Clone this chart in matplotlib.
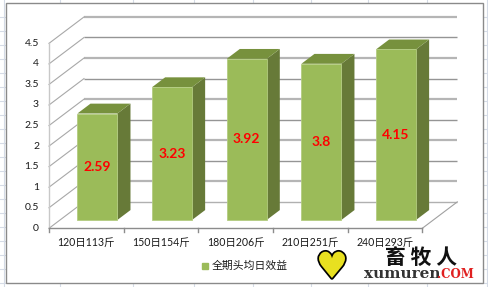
import matplotlib
matplotlib.use("Agg")
import matplotlib.pyplot as plt
from matplotlib.lines import Line2D
from matplotlib.patches import Rectangle
import matplotlib.patheffects as pe

# ---- data ----
categories = ["120日113斤", "150日154斤", "180日206斤", "210日251斤", "240日293斤"]
values = [2.59, 3.23, 3.92, 3.8, 4.15]
value_labels = ["2.59", "3.23", "3.92", "3.8", "4.15"]
yticks = [0, 0.5, 1, 1.5, 2, 2.5, 3, 3.5, 4, 4.5]
ytick_labels = ["0", "0.5", "1", "1.5", "2", "2.5", "3", "3.5", "4", "4.5"]
series_name = "全期头均日效益"

W, H = 488, 287
fig = plt.figure(figsize=(W / 100, H / 100), dpi=100)
fig.patch.set_facecolor("white")

# spreadsheet grid behind chart
gc = "#d5dbe6"
for y in range(17, 287, 14):
    fig.add_artist(Line2D([0, 5 / W], [1 - y / H] * 2, color=gc, lw=0.8, zorder=-3))
    fig.add_artist(Line2D([483 / W, 1], [1 - y / H] * 2, color=gc, lw=0.8, zorder=-3))
for x in [60, 133, 194, 253, 311, 368, 427]:
    fig.add_artist(Line2D([x / W] * 2, [1, 1 - 3 / H], color=gc, lw=0.8, zorder=-3))
    fig.add_artist(Line2D([x / W] * 2, [0, 1 - 283 / H], color=gc, lw=0.8, zorder=-3))
fig.add_artist(Line2D([3.5 / W] * 2, [0, 1], color=gc, lw=0.8, zorder=-3))
fig.add_artist(Line2D([486.5 / W] * 2, [0, 1], color=gc, lw=0.8, zorder=-3))
# chart border
fig.add_artist(Rectangle((5.5 / W, 1 - 282.5 / H), 477.5 / W, 279.5 / H,
                         fill=True, facecolor="white", edgecolor="#8a8a8a", lw=1.0, zorder=-2))

# axes in category / value units; pixel geometry
X0, XS = 49.0, 74.66      # front x origin px, px per category
Y0, YS = 228.3, 41.1      # front y=0 px (from top), px per unit
DXP, DYP = 35.0, 26.4     # depth offset px
ax = fig.add_axes([0, 0, 1, 1])
ax.set_xlim(-X0 / XS, (W - X0) / XS)
ax.set_ylim((Y0 - H) / YS, Y0 / YS)
ax.axis("off")
ax.patch.set_alpha(0)

DX, DY = DXP / XS, DYP / YS


def P(x, v, d):
    return x + d * DX, v + d * DY


n = len(categories)
vmax = yticks[-1]

# back wall gridlines and side wall diagonals
for i, v in enumerate(yticks):
    col = "#959595" if i % 2 == 0 else "#b5b5b5"
    lw = 1.0 if i % 2 == 0 else 1.6
    if v == 0:
        col, lw = "#b0b0b0", 1.0
    a, b = P(0, v, 1), P(n, v, 1)
    ax.plot([a[0], b[0]], [a[1], b[1]], color=col, lw=lw, solid_capstyle="butt", zorder=1)
    a, b = P(0, v, 0), P(0, v, 1)
    ax.plot([a[0], b[0]], [a[1], b[1]], color="#a8a8a8", lw=0.8, zorder=1)

# front axis line
a, b = P(0, 0, 0), P(0, vmax, 0)
ax.plot([a[0], b[0]], [a[1], b[1]], color="#c8c8c8", lw=1.0, zorder=1)
# floor
a, b = P(0, 0, 0), P(n, 0, 0)
ax.plot([a[0], b[0]], [a[1], b[1]], color="#8c8c8c", lw=1.0, zorder=1)
a, b = P(n, 0, 0), P(n, 0, 1)
ax.plot([a[0], b[0]], [a[1], b[1]], color="#a0a0a0", lw=0.8, zorder=1)
for i in range(n + 1):
    ax.plot([i, i], [0, -4 / YS], color="#8c8c8c", lw=1.0, zorder=1)

# y tick labels
for v, t in zip(yticks, ytick_labels):
    ax.text(-10 / XS, v, t, ha="right", va="center", fontsize=7.5,
            family=["Lato", "DejaVu Sans"], color="#1a1a1a")

# category labels
for i, c in enumerate(categories):
    ax.text(i + 0.5, -14 / YS, c, ha="center", va="center", fontsize=7.6,
            family=["Lato", "Noto Sans CJK SC"], color="#1a1a1a")

# bars
d0, d1 = 0.316, 0.69
bw = 40 / XS
front_c, side_c, top_c = "#9bbb59", "#677a38", "#77913d"
for i, val in enumerate(values):
    cx = i + 0.5
    xl, xr = cx - bw / 2, cx + bw / 2
    side = [P(xr, 0, d0), P(xr, 0, d1), P(xr, val, d1), P(xr, val, d0)]
    ax.fill([p[0] for p in side], [p[1] for p in side], color=side_c, lw=0, zorder=3)
    top = [P(xl, val, d0), P(xr, val, d0), P(xr, val, d1), P(xl, val, d1)]
    ax.fill([p[0] for p in top], [p[1] for p in top], color=top_c, lw=0, zorder=3)
    front = [P(xl, 0, d0), P(xr, 0, d0), P(xr, val, d0), P(xl, val, d0)]
    ax.fill([p[0] for p in front], [p[1] for p in front], facecolor=front_c,
            edgecolor="#b3cc80", lw=0.6, zorder=4)
    lx, ly = P(cx, val / 2, d0)
    ax.text(lx, ly, value_labels[i], ha="center", va="center", fontsize=10,
            fontweight="bold", family=["Lato", "DejaVu Sans"], color="#ff0000", zorder=5)

# legend
ax.plot([205 / XS - X0 / XS], [(Y0 - 266) / YS], marker="s", ms=5,
        color=front_c, ls="none")
ax.text(212 / XS - X0 / XS, (Y0 - 266) / YS, series_name, ha="left", va="center",
        fontsize=7.8, family=["Noto Sans CJK SC"], color="#1a1a1a")

# watermark
fig.text(332 / W, 1 - 268 / H, "♥", fontsize=26, ha="center", va="center",
         color="#e8e020", family="DejaVu Sans",
         path_effects=[pe.withStroke(linewidth=2.5, foreground="black")])
fig.text(421 / W, 1 - 257 / H, "畜 牧 人", fontsize=15, ha="center", va="center",
         fontweight="bold", color="#111111", family=["Noto Sans CJK SC"])
fig.text(364 / W, 1 - 274 / H, "xumuren", fontsize=11, ha="left", va="center",
         fontweight="bold", color="#333333", family="DejaVu Serif")
fig.text(437 / W, 1 - 275 / H, ".COM", fontsize=8.5, ha="left", va="center",
         fontweight="bold", color="#e02020", family="DejaVu Serif")

fig.savefig("out.png", dpi=100, facecolor="white")
